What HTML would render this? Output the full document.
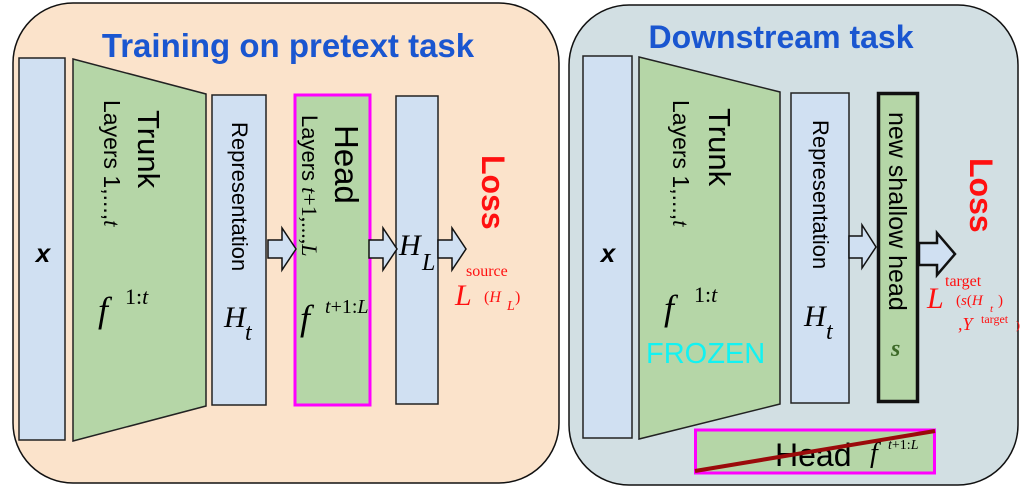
<!DOCTYPE html>
<html><head><meta charset="utf-8"><style>
html,body{margin:0;padding:0;background:#fff;}
svg{display:block;}
.s{font-family:"Liberation Sans",sans-serif;}
.m{font-family:"Liberation Serif",serif;font-style:italic;}
</style></head><body>
<svg width="1032" height="496" viewBox="0 0 1032 496" xmlns="http://www.w3.org/2000/svg">
<!-- Left panel -->
<rect x="13" y="3" width="546" height="480" rx="60" fill="#fbe3cb" stroke="#111" stroke-width="1.5"/>
<text x="288" y="57" class="s" font-size="33" font-weight="bold" fill="#1a56d0" text-anchor="middle">Training on pretext task</text>
<rect x="19" y="58" width="46" height="382" fill="#d0e0f2" stroke="#222" stroke-width="1.5"/>
<text x="43" y="262" class="s" font-size="26" font-weight="bold" font-style="italic" text-anchor="middle">x</text>
<polygon points="73,59 206,94 206,406 73,441" fill="#b5d6a7" stroke="#222" stroke-width="1.5"/>
<text transform="translate(138,110) rotate(90)" class="s" font-size="31">Trunk</text>
<text transform="translate(104,100) rotate(90)" class="s" font-size="23">Layers 1,...,<tspan class="m">t</tspan></text>
<text x="98" y="322" class="m" font-size="36">f</text>
<text x="125" y="304" font-family="Liberation Serif,serif" font-size="22">1:<tspan font-style="italic">t</tspan></text>
<rect x="212" y="95" width="54" height="310" fill="#d0e0f2" stroke="#222" stroke-width="1.5"/>
<text transform="translate(232,122) rotate(90)" class="s" font-size="22">Representation</text>
<text x="224" y="327" class="m" font-size="30">H</text><text x="245" y="340" class="m" font-size="24">t</text>
<rect x="295" y="95" width="75" height="310" fill="#b5d6a7" stroke="#ff00ff" stroke-width="3"/>
<text transform="translate(335,125) rotate(90)" class="s" font-size="33">Head</text>
<text transform="translate(302,115) rotate(90)" class="s" font-size="22">Layers <tspan class="m">t</tspan><tspan font-family="Liberation Serif,serif">+1,...,</tspan><tspan class="m">L</tspan></text>
<text x="300" y="330" class="m" font-size="36">f</text>
<text x="325" y="313" font-family="Liberation Serif,serif" font-size="20"><tspan font-style="italic">t</tspan>+1:<tspan font-style="italic">L</tspan></text>
<rect x="396" y="96" width="42" height="308" fill="#d0e0f2" stroke="#222" stroke-width="1.5"/>
<text x="399" y="255" class="m" font-size="30">H</text><text x="422" y="270" class="m" font-size="24">L</text>
<g fill="#d0e0f2" stroke="#111" stroke-width="1.5">
<polygon points="268,240 282,240 282,228 296,249 282,270 282,258 268,258"/>
<polygon points="369,240 383,240 383,228 397,249 383,270 383,258 369,258"/>
<polygon points="438,240 452,240 452,228 466,249 452,270 452,258 438,258"/>
</g>
<text transform="translate(482,155) rotate(90)" class="s" font-size="32" font-weight="bold" fill="#ff1010">Loss</text>
<text x="466" y="276" font-family="Liberation Serif,serif" font-size="16" fill="#ff1010">source</text>
<text x="455" y="305" class="m" font-size="30" fill="#ff1010">L</text>
<text x="484" y="302" font-family="Liberation Serif,serif" font-size="16" fill="#ff1010">(<tspan font-style="italic">H</tspan></text>
<text x="507" y="310" class="m" font-size="14" fill="#ff1010">L</text>
<text x="515" y="302" font-family="Liberation Serif,serif" font-size="16" fill="#ff1010">)</text>

<!-- Right panel -->
<rect x="569" y="5" width="449" height="480" rx="60" fill="#d2dfe3" stroke="#111" stroke-width="1.5"/>
<text x="781" y="48" class="s" font-size="32" font-weight="bold" fill="#1a56d0" text-anchor="middle">Downstream task</text>
<rect x="583" y="56" width="49" height="382" fill="#d0e0f2" stroke="#222" stroke-width="1.5"/>
<text x="608" y="262" class="s" font-size="26" font-weight="bold" font-style="italic" text-anchor="middle">x</text>
<polygon points="639,57 780,92 780,404 639,439" fill="#b5d6a7" stroke="#222" stroke-width="1.5"/>
<text transform="translate(709,108) rotate(90)" class="s" font-size="31">Trunk</text>
<text transform="translate(673,100) rotate(90)" class="s" font-size="23">Layers 1,...,<tspan class="m">t</tspan></text>
<text x="664" y="320" class="m" font-size="36">f</text>
<text x="694" y="302" font-family="Liberation Serif,serif" font-size="22">1:<tspan font-style="italic">t</tspan></text>
<text x="646" y="363" class="s" font-size="29" fill="#12f2f2">FROZEN</text>
<rect x="791" y="93" width="58" height="310" fill="#d0e0f2" stroke="#222" stroke-width="1.5"/>
<text transform="translate(813,120) rotate(90)" class="s" font-size="22">Representation</text>
<text x="804" y="326" class="m" font-size="30">H</text><text x="826" y="339" class="m" font-size="24">t</text>
<rect x="878.5" y="93.5" width="39" height="308" fill="#b5d6a7" stroke="#111" stroke-width="3.5"/>
<text transform="translate(889,112) rotate(90)" class="s" font-size="25">new shallow head</text>
<text x="891" y="356" class="m" font-size="24" font-weight="bold" fill="#3d6a28">s</text>
<g fill="#d0e0f2" stroke="#111" stroke-width="1.5">
<polygon points="849,236 862,236 862,225 876,247 862,268 862,258 849,258"/>
</g>
<polygon points="919,243 937,243 937,233 955,254 937,275 937,265 919,265" fill="#d0e0f2" stroke="#111" stroke-width="2.5"/>
<text transform="translate(970,158) rotate(90)" class="s" font-size="32" font-weight="bold" fill="#ff1010">Loss</text>
<text x="945" y="286" font-family="Liberation Serif,serif" font-size="16" fill="#ff1010">target</text>
<text x="927" y="308" class="m" font-size="30" fill="#ff1010">L</text>
<text x="956" y="305" font-family="Liberation Serif,serif" font-size="15" fill="#ff1010">(<tspan font-style="italic">s</tspan>(<tspan font-style="italic">H</tspan></text>
<text x="990" y="312" class="m" font-size="11" fill="#ff1010">t</text>
<text x="998" y="305" font-family="Liberation Serif,serif" font-size="15" fill="#ff1010">)</text>
<text x="958" y="330" class="m" font-size="18" fill="#ff1010">,Y</text>
<text x="981" y="323" font-family="Liberation Serif,serif" font-size="12" fill="#ff1010">target</text>
<text x="1016" y="329" font-family="Liberation Serif,serif" font-size="12" fill="#ff1010">)</text>
<rect x="695.5" y="430" width="239" height="43" fill="#b5d6a7" stroke="#ff00ff" stroke-width="3"/>
<text x="775" y="466" class="s" font-size="32">Head</text>
<text x="870" y="462" class="m" font-size="28">f</text>
<text x="888" y="449" font-family="Liberation Serif,serif" font-size="14"><tspan font-style="italic">t</tspan>+1:<tspan font-style="italic">L</tspan></text>
<line x1="695" y1="471" x2="935" y2="431" stroke="#9b0a0a" stroke-width="4"/>
</svg>
</body></html>
